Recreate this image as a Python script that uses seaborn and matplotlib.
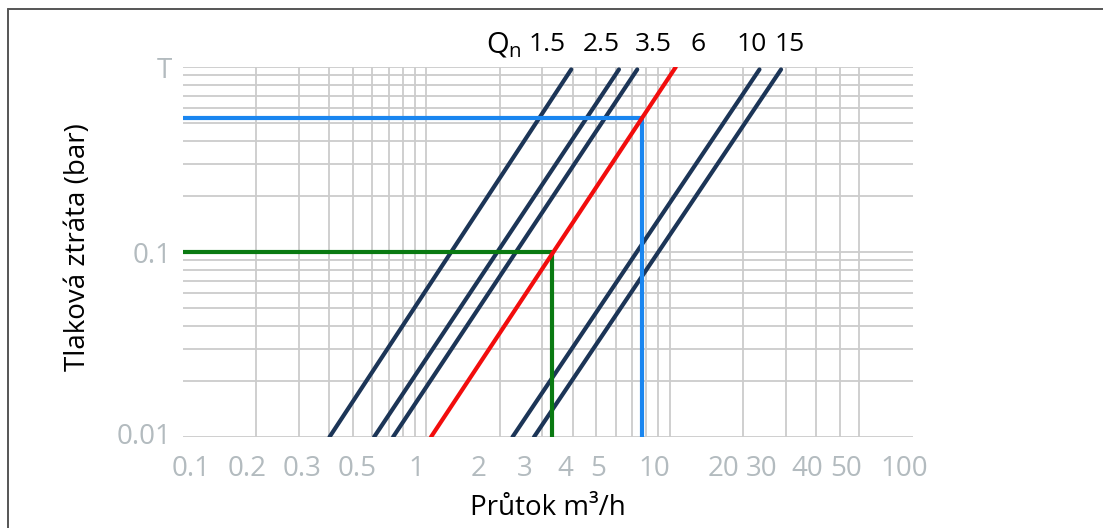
import matplotlib
matplotlib.use("Agg")
import matplotlib.pyplot as plt
import matplotlib.ticker as ticker
from matplotlib.lines import Line2D
import seaborn as sns
import pandas as pd

# meter sizes Qn and the flow (m3/h) where each curve meets the bottom / top of the chart
meter_sizes = ["1.5", "2.5", "3.5", "6", "10", "15"]
flow_low = [0.40, 0.61, 0.73, 1.045, 2.26, 2.77]
flow_high = [3.94, 6.19, 7.36, 10.6, 23.4, 28.7]
dp_low = [0.01, 0.01, 0.01, 0.01, 0.01, 0.01]
dp_high = [0.97, 0.97, 0.97, 1.0, 0.97, 0.97]

# the two reading examples (flow, pressure loss)
blue_flow = [0.1, 7.7, 7.7]
blue_dp = [0.53, 0.53, 0.01]
green_flow = [0.1, 3.3, 3.3]
green_dp = [0.1, 0.1, 0.01]

# grid lines
x_grid = [0.1, 0.2, 0.3, 0.4, 0.5, 0.6, 0.7, 0.8, 0.9, 1, 2, 3, 4, 5, 6, 7, 8, 9,
          10, 20, 30, 40, 50, 60]
y_grid = [0.01, 0.02, 0.03, 0.04, 0.05, 0.06, 0.07, 0.08, 0.09, 0.1,
          0.2, 0.3, 0.4, 0.5, 0.6, 0.7, 0.8, 0.9, 1]

# tick labels (the x labels sit a little off their grid lines in the original)
x_tick_text = ["0.1", "0.2", "0.3", "0.5", "1", "2", "3", "4", "5",
               "10", "20", "30", "40", "50", "100"]
x_tick_pos = [0.1076, 0.184, 0.3075, 0.518, 0.913, 1.632, 2.545, 3.74, 5.08,
              8.63, 16.7, 23.9, 36.7, 52.9, 91.9]
y_tick_text = ["0.01", "0.1", "T"]
y_tick_pos = [0.0105, 0.1, 1]

# where the size labels sit above the chart
label_flow = [3.13, 5.22, 8.55, 13.1, 21.8, 31.0]

sns.set_theme(style="white")
plt.rcParams['font.family'] = ['Open Sans', 'DejaVu Sans']

curves = pd.DataFrame({
    "size": meter_sizes * 2,
    "flow": flow_low + flow_high,
    "dp": dp_low + dp_high,
})
colors = {s: '#1c3557' for s in meter_sizes}
colors["6"] = '#f20d0d'

fig = plt.figure(figsize=(11.03, 5.28), dpi=100)
ax = fig.add_axes([0.1659, 0.1723, 0.6618, 0.7008])
ax.set_xscale('log')
ax.set_yscale('log')

navy = curves[curves["size"] != "6"]
red = curves[curves["size"] == "6"]
sns.lineplot(data=navy, x="flow", y="dp", hue="size", palette=colors,
             estimator=None, sort=False, linewidth=3, legend=False, ax=ax, zorder=3)

ex = pd.DataFrame({"flow": blue_flow, "dp": blue_dp})
sns.lineplot(data=ex, x="flow", y="dp", estimator=None, sort=False,
             color='#1a86f0', linewidth=3, ax=ax, zorder=4)
ex = pd.DataFrame({"flow": green_flow, "dp": green_dp})
sns.lineplot(data=ex, x="flow", y="dp", estimator=None, sort=False,
             color='#0a7a12', linewidth=3, ax=ax, zorder=4)

sns.lineplot(data=red, x="flow", y="dp", hue="size", palette=colors,
             estimator=None, sort=False, linewidth=3, legend=False, ax=ax, zorder=5)

ax.set_xlim(0.1, 100)
ax.set_ylim(0.01, 1)
# major ticks -> grid only, minor ticks -> labels only
ax.xaxis.remove_overlapping_locs = False
ax.yaxis.remove_overlapping_locs = False
ax.xaxis.set_major_locator(ticker.FixedLocator(x_grid))
ax.xaxis.set_major_formatter(ticker.NullFormatter())
ax.xaxis.set_minor_locator(ticker.FixedLocator(x_tick_pos))
ax.xaxis.set_minor_formatter(ticker.FixedFormatter(x_tick_text))
ax.yaxis.set_major_locator(ticker.FixedLocator(y_grid))
ax.yaxis.set_major_formatter(ticker.NullFormatter())
ax.yaxis.set_minor_locator(ticker.FixedLocator(y_tick_pos))
ax.yaxis.set_minor_formatter(ticker.FixedFormatter(y_tick_text))
ax.grid(True, which='major', color='#cccccc', linewidth=1.3, zorder=0)
ax.grid(False, which='minor')
ax.set_axisbelow(True)
ax.tick_params(axis='both', which='both', length=0)
ax.tick_params(axis='both', which='minor', labelsize=20, labelcolor='#b3bbbf')
ax.tick_params(axis='x', which='minor', pad=13)
ax.tick_params(axis='y', which='minor', pad=8)
for s in ax.spines.values():
    s.set_visible(False)

ax.xaxis.get_major_ticks()[0].gridline.set_visible(False)

ax.set_xlabel("Průtok m³/h", fontsize=20, color='black')
ax.set_ylabel("Tlaková ztráta (bar)", fontsize=20, color='black')
ax.xaxis.set_label_coords(0.5, -0.153)
ax.yaxis.set_label_coords(-0.124, 0.513)

tr = ax.get_xaxis_transform()
ax.text(2.08, 1.058, r"$\mathregular{Q_n}$", transform=tr, ha='center', va='center',
        fontsize=21, color='black')
for name, xpos in zip(meter_sizes, label_flow):
    ax.text(xpos, 1.062, name, transform=tr, ha='center', va='center',
            fontsize=19, color='black')

# frame of the original picture (only left and top edges are visible)
fig.add_artist(Line2D([0.0073, 0.0073], [0.0, 0.983], transform=fig.transFigure,
                      color='#555555', linewidth=1.4))
fig.add_artist(Line2D([0.0073, 1.0], [0.983, 0.983], transform=fig.transFigure,
                      color='#555555', linewidth=1.4))

plt.savefig('out.png', dpi=100)
